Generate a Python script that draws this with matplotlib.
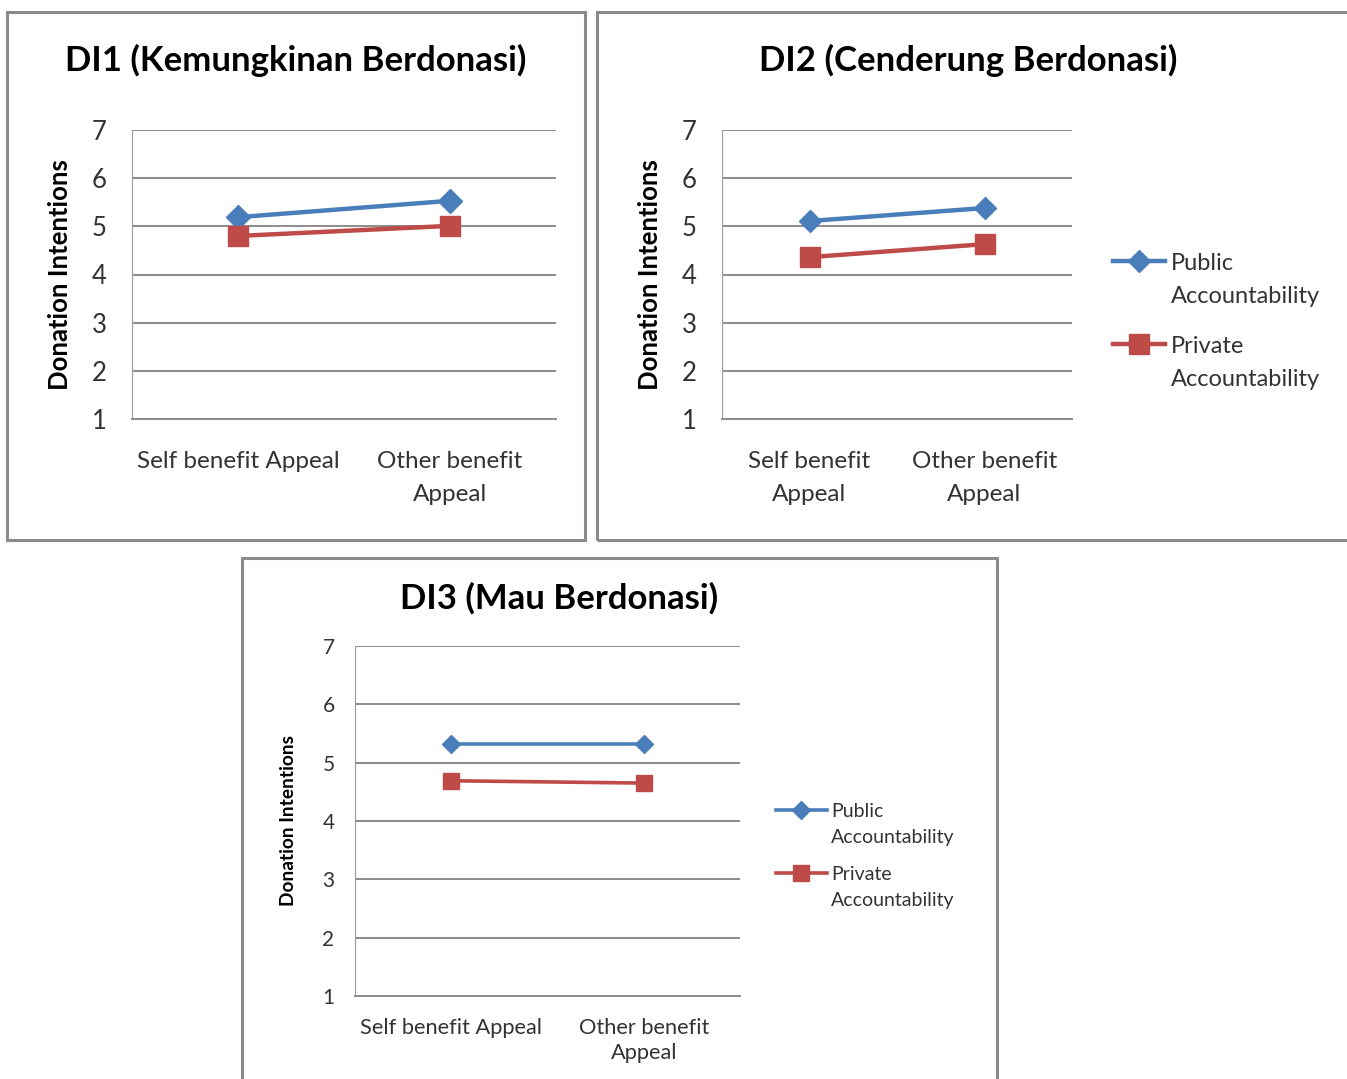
import matplotlib.pyplot as plt
from matplotlib.patches import Rectangle

# Donation intention means (scale 1-7)
appeals_one = ['Self benefit Appeal', 'Other benefit\nAppeal']
appeals_two = ['Self benefit\nAppeal', 'Other benefit\nAppeal']
series_names = ['Public\nAccountability', 'Private\nAccountability']

di1_public = [5.19, 5.53]
di1_private = [4.80, 5.01]
di2_public = [5.11, 5.38]
di2_private = [4.36, 4.63]
di3_public = [5.32, 5.32]
di3_private = [4.69, 4.65]

W, H = 1347, 1079
BLUE = '#4a7ebb'
RED = '#be4b48'
GRID = '#8c8c8c'
FONT = 'Lato'

fig = plt.figure(figsize=(W / 100, H / 100), dpi=100)
fig.patch.set_facecolor('white')


def px_rect(x0, y0, x1, y1):
    return [x0 / W, 1 - y1 / H, (x1 - x0) / W, (y1 - y0) / H]


def frame(x0, y0, x1, y1):
    fig.patches.append(Rectangle((x0 / W, 1 - y1 / H), (x1 - x0) / W, (y1 - y0) / H,
                                 transform=fig.transFigure, fill=False,
                                 edgecolor='#8a8a8a', linewidth=2.2))


def panel(rect, title, title_xy, title_size, ylab_xy, ylab_size, cats, public, private,
          tick_size, lw, ms_d, ms_s, legend_at=None, leg_size=16, line_sp=1.45,
          leg_sp=1.58, leg_gap=1.2, handle_len=2.2, cat_size=None, xpad=None):
    ax = fig.add_axes(px_rect(*rect))
    x = range(len(cats))
    ax.plot(x, public, color=BLUE, lw=lw, marker='D', ms=ms_d, label=series_names[0])
    ax.plot(x, private, color=RED, lw=lw, marker='s', ms=ms_s, label=series_names[1])
    ax.set_xlim(-0.5, 1.5)
    ax.set_ylim(1, 7)
    ax.set_yticks(range(1, 8))
    ax.set_xticks(list(x))
    ax.set_xticklabels(cats, fontsize=cat_size or tick_size, color='#333333', family=FONT)
    for t in ax.get_xticklabels():
        t.set_linespacing(line_sp)
    ax.set_yticklabels([str(v) for v in range(1, 8)], fontsize=tick_size + 1,
                       color='#333333', family=FONT)
    ax.tick_params(axis='x', length=0, pad=xpad or tick_size * 1.3)
    ax.tick_params(axis='y', length=0, pad=tick_size * 1.05)
    ax.grid(axis='y', color=GRID, lw=1.4)
    ax.set_axisbelow(True)
    for s in ['top', 'right']:
        ax.spines[s].set_visible(False)
    ax.spines['left'].set_color('#9a9a9a')
    ax.spines['bottom'].set_color(GRID)
    ax.spines['bottom'].set_linewidth(1.4)
    fig.text(title_xy[0] / W, 1 - title_xy[1] / H, title, ha='center', va='center',
             fontsize=title_size, fontweight='bold', family=FONT)
    fig.text(ylab_xy[0] / W, 1 - ylab_xy[1] / H, 'Donation Intentions', rotation=90,
             ha='center', va='center', fontsize=ylab_size, fontweight='bold', family=FONT)
    if legend_at is not None:
        leg = ax.legend(loc='upper left',
                        bbox_to_anchor=(legend_at[0] / W, 1 - legend_at[1] / H),
                        bbox_transform=fig.transFigure, frameon=False,
                        prop={'family': FONT, 'size': leg_size}, handlelength=handle_len,
                        handletextpad=0.25, labelspacing=leg_gap, borderpad=0,
                        borderaxespad=0, labelcolor='#333333')
        for t in leg.get_texts():
            t.set_linespacing(leg_sp)
        # keep each legend line next to the first row of its two-line label
        for col in leg._legend_handle_box.get_children():
            for row in col.get_children():
                row.align = 'top'
    return ax


frame(7, 12, 585, 540)
frame(597, 12, 1360, 540)
frame(242, 558, 997, 1095)

panel((132, 130, 556, 419), 'DI1 (Kemungkinan Berdonasi)', (296, 60), 25,
      (60, 275), 18.5, appeals_one, di1_public, di1_private,
      tick_size=17.5, lw=3.2, ms_d=12, ms_s=14, line_sp=1.75)

panel((722, 130, 1072, 419), 'DI2 (Cenderung Berdonasi)', (968, 60), 25,
      (650, 275), 18.5, appeals_two, di2_public, di2_private,
      tick_size=17.5, lw=3.2, ms_d=11, ms_s=14, legend_at=(1113, 253), leg_size=17,
      line_sp=1.75, leg_sp=1.72, leg_gap=1.2)

panel((355, 646, 740, 996), 'DI3 (Mau Berdonasi)', (559, 598), 25,
      (289, 820), 13.8, appeals_one, di3_public, di3_private,
      tick_size=14, lw=2.6, ms_d=9, ms_s=11, legend_at=(776, 803), leg_size=14,
      line_sp=1.3, leg_sp=1.62, leg_gap=1.05, handle_len=2.6, cat_size=15.7, xpad=16)

fig.savefig('out.png', dpi=100)
